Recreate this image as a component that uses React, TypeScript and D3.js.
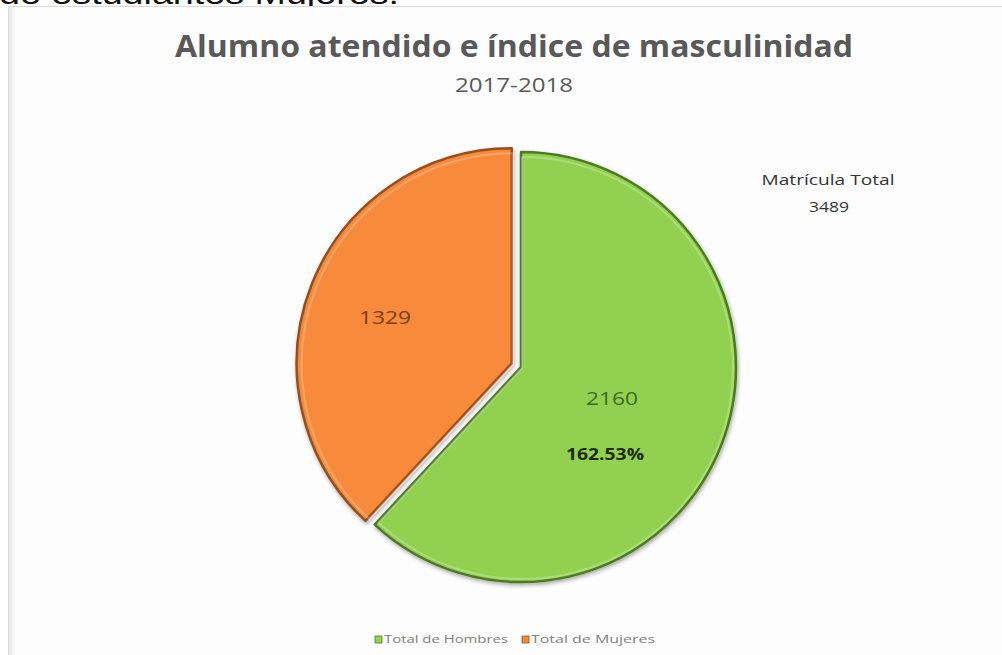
import React from "react";
import * as d3 from "d3";

const categories = ["Total de Hombres", "Total de Mujeres"];
const values = [2160, 1329];
const sliceColors = ["#92D050", "#F78A3A"];
const edgeColors = ["#4E7A24", "#9A4E17"];
const labelColors = ["#3E6B20", "#7A3E12"];
const titleText = "Alumno atendido e índice de masculinidad";
const subtitleText = "2017-2018";
const totalLabel = "Matrícula Total";
const totalValue = "3489";
const indexLabel = "162.53%";
const headerText = "de estudiantes Mujeres.";

export default function App() {
  const W = 1002;
  const H = 655;
  const cx = 521;
  const cy = 367;
  const r = 215;
  const pie = d3.pie<number>().sort(null).startAngle(0).endAngle(2 * Math.PI);
  const arcs = pie(values);
  const arc = d3.arc<d3.PieArcDatum<number>>().innerRadius(0).outerRadius(r);
  const innerArc = d3.arc<d3.PieArcDatum<number>>().innerRadius(0).outerRadius(r - 4);
  const explode = [0, 10];

  return (
    <svg
      width={W}
      height={H}
      style={{ position: "absolute", left: 0, top: 0, background: "#fff" }}
      fontFamily="Open Sans, Noto Sans, sans-serif"
    >
      <defs>
        <filter id="shadow" x="-20%" y="-20%" width="140%" height="140%">
          <feGaussianBlur in="SourceAlpha" stdDeviation="2" />
          <feOffset dx="1" dy="2" result="off" />
          <feComponentTransfer>
            <feFuncA type="linear" slope="0.35" />
          </feComponentTransfer>
          <feMerge>
            <feMergeNode />
            <feMergeNode in="SourceGraphic" />
          </feMerge>
        </filter>
        <linearGradient id="frameL" x1="0" x2="1" y1="0" y2="0">
          <stop offset="0" stopColor="#d8d8d8" />
          <stop offset="1" stopColor="#ffffff" />
        </linearGradient>
      </defs>
      <rect x={0} y={0} width={W} height={H} fill="#fff" />
      {/* header text cropped at top edge, as in the reference */}
      <text
        x={-1}
        y={4}
        fontSize={30}
        fill="#111"
        fontFamily="Liberation Sans, Arial, sans-serif"
        textLength={400}
        lengthAdjust="spacingAndGlyphs"
      >
        {headerText}
      </text>
      {/* chart frame */}
      <rect x={8.5} y={6.5} width={W} height={H} fill="#fdfdfd" stroke="#d9d9d9" strokeWidth={1} />
      <rect x={9} y={7} width={8} height={H} fill="url(#frameL)" opacity={0.6} />

      {/* title */}
      <text
        x={514}
        y={57}
        textAnchor="middle"
        fontSize={30}
        fontWeight="bold"
        fill="#595959"
        textLength={678}
        lengthAdjust="spacingAndGlyphs"
      >
        {titleText}
      </text>
      <text x={514} y={92} textAnchor="middle" fontSize={20} fill="#595959" textLength={118} lengthAdjust="spacingAndGlyphs">
        {subtitleText}
      </text>

      {/* pie */}
      {arcs.map((a, i) => {
        const mid = (a.startAngle + a.endAngle) / 2;
        const dx = Math.sin(mid) * explode[i];
        const dy = -Math.cos(mid) * explode[i];
        return (
          <g key={categories[i]} transform={`translate(${cx + dx},${cy + dy})`} filter="url(#shadow)">
            <path d={arc(a) || ""} fill={sliceColors[i]} stroke={edgeColors[i]} strokeWidth={2.5} strokeLinejoin="round" />
            <path
              d={innerArc(a) || ""}
              fill="none"
              stroke="#ffffff"
              strokeOpacity={0.25}
              strokeWidth={2}
              transform="translate(1,1)"
            />
          </g>
        );
      })}

      {/* data labels */}
      <text x={385} y={324} textAnchor="middle" fontSize={19} fill={labelColors[1]} textLength={52} lengthAdjust="spacingAndGlyphs">
        {values[1]}
      </text>
      <text x={612} y={405} textAnchor="middle" fontSize={19} fill={labelColors[0]} textLength={52} lengthAdjust="spacingAndGlyphs">
        {values[0]}
      </text>
      <text x={605} y={460} textAnchor="middle" fontSize={16} fontWeight="bold" fill="#1E2A10" textLength={78} lengthAdjust="spacingAndGlyphs">
        {indexLabel}
      </text>

      {/* total annotation */}
      <text x={828} y={185} textAnchor="middle" fontSize={15} fill="#333" textLength={133} lengthAdjust="spacingAndGlyphs">
        {totalLabel}
      </text>
      <text x={829} y={212} textAnchor="middle" fontSize={15} fill="#333" textLength={40} lengthAdjust="spacingAndGlyphs">
        {totalValue}
      </text>

      {/* legend */}
      {categories.map((c, i) => {
        const lx = [375, 522][i];
        const tw = [124, 124][i];
        return (
          <g key={c}>
            <rect x={lx} y={636} width={7} height={7} fill={sliceColors[i]} stroke={edgeColors[i]} strokeWidth={0.8} />
            <text x={lx + 9} y={643} fontSize={11} fill="#7f7f7f" textLength={tw} lengthAdjust="spacingAndGlyphs">
              {c}
            </text>
          </g>
        );
      })}
    </svg>
  );
}
